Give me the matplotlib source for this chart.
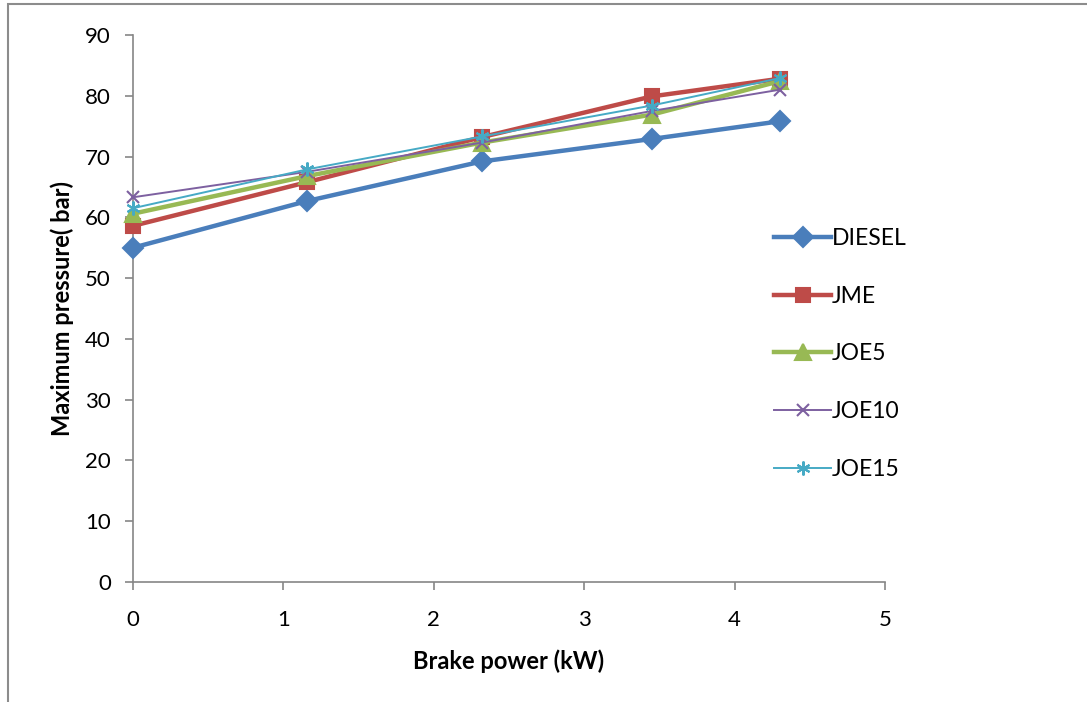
import matplotlib.pyplot as plt
import matplotlib.patches as patches

plt.rcParams['font.family'] = ['Lato', 'DejaVu Sans']

power = [0, 1.16, 2.32, 3.45, 4.3]
diesel = [55.0, 62.7, 69.2, 72.9, 75.8]
jme = [58.6, 65.8, 73.2, 79.9, 82.8]
joe5 = [60.6, 66.8, 72.3, 76.9, 82.4]
joe10 = [63.3, 67.5, 72.3, 77.5, 81.0]
joe15 = [61.5, 67.9, 73.3, 78.4, 82.9]

series = [
    ("DIESEL", diesel, "#4A7EBB", "D", 3.2, 10.5),
    ("JME", jme, "#BE4B48", "s", 3.2, 10.5),
    ("JOE5", joe5, "#98B954", "^", 3.2, 11),
    ("JOE10", joe10, "#7D60A0", "x", 1.4, 9),
    ("JOE15", joe15, "#46AAC5", (6, 2, 0), 1.4, 10),
]

fig = plt.figure(figsize=(10.87, 7.02), dpi=100)
ax = fig.add_axes([133/1087, 1-582/702, (885-133)/1087, (582-35)/702])

for name, vals, col, m, lw, ms in series:
    ax.plot(power, vals, color=col, linewidth=lw, marker=m, markersize=ms,
            markerfacecolor=col, markeredgecolor=col, markeredgewidth=1.5,
            label=name, solid_joinstyle='round', clip_on=False, zorder=3)

ax.set_xlim(0, 5)
ax.set_ylim(0, 90)
ax.set_xticks(range(0, 6))
ax.set_yticks(range(0, 91, 10))
for s in ['top', 'right']:
    ax.spines[s].set_visible(False)
for s in ['left', 'bottom']:
    ax.spines[s].set_color('#868686')
    ax.spines[s].set_linewidth(1.2)
ax.tick_params(direction='out', length=6, color='#868686', width=1.2,
               labelsize=16)
ax.tick_params(axis='x', pad=14)
ax.tick_params(axis='y', pad=10)
ax.set_xlabel("Brake power (kW)", fontsize=17, fontweight='bold', labelpad=14)
ax.set_ylabel("Maximum pressure( bar)", fontsize=17, fontweight='bold', labelpad=8)

ax.legend(loc='upper left', bbox_to_anchor=(632/752, 1-(219-35)/547),
          frameon=False, fontsize=16.5, labelspacing=1.6, handlelength=2.5,
          handletextpad=0.0, borderaxespad=0)

# outer frame of the chart area
fig.patches.append(patches.Rectangle((7.5/1087, -0.1), 1.2, 1-4/702+0.1,
                                     transform=fig.transFigure, fill=False,
                                     edgecolor='#8c8c8c', linewidth=1.5))

fig.savefig("out.png", dpi=100)
